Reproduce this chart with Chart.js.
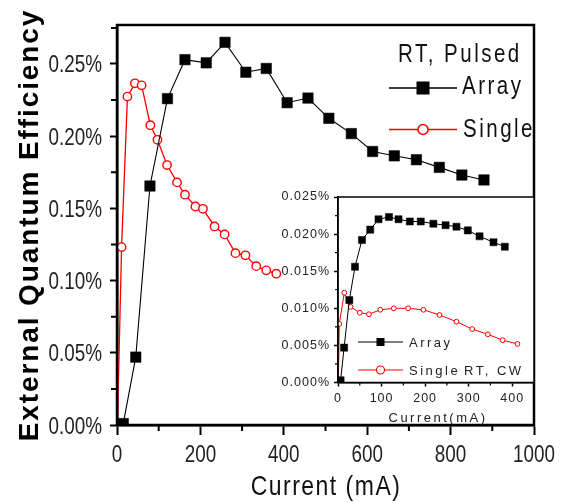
<!DOCTYPE html>
<html><head><meta charset="utf-8">
<script src="https://cdn.jsdelivr.net/npm/chart.js@4.4.1/dist/chart.umd.min.js"></script>
<style>
html,body{margin:0;padding:0;background:#fff;}
#wrap{position:relative;width:562px;height:503px;overflow:hidden;}
#main{position:absolute;left:0;top:0;}
#inset{position:absolute;left:262px;top:185px;}
</style></head><body>
<div id="wrap"><canvas id="main" width="562" height="503"></canvas><canvas id="inset" width="300" height="250"></canvas></div>
<script>
// ---- Main plot (RT, Pulsed) ----
const arrayCurrent = [15, 45, 79, 121, 163, 214, 259, 309, 358, 408, 458, 508, 562, 613, 665, 718, 773, 827, 880];
const arrayEQE = [0.001, 0.047, 0.1655, 0.226, 0.253, 0.2508, 0.265, 0.2443, 0.2469, 0.2232, 0.2264, 0.2124, 0.2018, 0.1894, 0.1864, 0.1837, 0.1784, 0.1731, 0.1697];
const singleCurrent = [1, 11, 25, 43, 59, 80, 97, 120, 144, 163, 188, 206, 234, 258, 284, 308, 334, 358, 382];
const singleEQE = [0.001, 0.1232, 0.2274, 0.2366, 0.2352, 0.2076, 0.1975, 0.180, 0.168, 0.1595, 0.1513, 0.1497, 0.1375, 0.132, 0.119, 0.1175, 0.110, 0.1071, 0.1048];
const mainXTicks = [0, 200, 400, 600, 800, 1000];
const mainXMinor = [100, 300, 500, 700, 900];
const mainYTicks = [0, 0.05, 0.10, 0.15, 0.20, 0.25];
const mainYMinor = [0.025, 0.075, 0.125, 0.175, 0.225, 0.275];

// ---- Inset (RT, CW) ----
const insetArrayCurrent = [6, 14, 26, 39, 55, 74, 93, 117, 139, 165, 190, 219, 247, 272, 298, 325, 357, 383];
const insetArrayEQE = [0.0003, 0.0047, 0.0111, 0.0156, 0.0192, 0.0206, 0.0220, 0.0223, 0.0220, 0.0217, 0.0217, 0.0214, 0.0212, 0.0210, 0.0205, 0.0197, 0.0189, 0.0183];
const insetSingleCurrent = [1, 3, 14.5, 29, 50, 71, 97, 128, 161, 196, 233, 272, 308, 344, 378, 412];
const insetSingleEQE = [0.0002, 0.0079, 0.0121, 0.0102, 0.0094, 0.0092, 0.0098, 0.0100, 0.0100, 0.0098, 0.0091, 0.0082, 0.0072, 0.0065, 0.0057, 0.0052];
const insetXTicks = [0, 100, 200, 300, 400];
const insetXMinor = [50, 150, 250, 350];
const insetYTicks = [0, 0.005, 0.010, 0.015, 0.020, 0.025];
const insetYMinor = [0.0025, 0.0075, 0.0125, 0.0175, 0.0225];

const SANS = "'Liberation Sans',Arial,sans-serif";
const NARROW_SX = 0.82; // Liberation Sans squeezed to mimic a narrow face

const pts = (xs, ys) => xs.map((x, i) => ({x, y: ys[i]}));

function drawText(ctx, t) {
  ctx.save();
  ctx.font = t.font; ctx.fillStyle = t.color || '#111';
  const sx = t.sx || 1;
  ctx.letterSpacing = ((t.spacing || 0) / sx) + 'px';
  ctx.textAlign = t.align || 'left'; ctx.textBaseline = t.baseline || 'alphabetic';
  ctx.translate(t.x, t.y); if (t.rotate) ctx.rotate(t.rotate);
  ctx.scale(sx, 1);
  ctx.fillText(t.text, 0, 0);
  ctx.restore();
}

const framePlugin = {
  id: 'frame',
  afterDraw(chart, args, opts) {
    const {ctx, chartArea: a} = chart;
    ctx.save();
    ctx.strokeStyle = '#000';
    ctx.lineWidth = opts.width || 2;
    ctx.strokeRect(a.left, a.top, a.right - a.left, a.bottom - a.top);
    ctx.restore();
  }
};
const bgPlugin = {
  id: 'areaBg',
  beforeDraw(chart) {
    const {ctx, chartArea: a} = chart;
    ctx.save(); ctx.fillStyle = '#fff';
    ctx.fillRect(a.left, a.top, a.right - a.left, a.bottom - a.top);
    ctx.restore();
  }
};
const minorPlugin = {
  id: 'minor',
  afterDraw(chart, args, opts) {
    const {ctx, chartArea: a, scales} = chart;
    ctx.save(); ctx.strokeStyle = '#000'; ctx.lineWidth = opts.width || 1.5;
    ctx.beginPath();
    for (const v of opts.x) { const p = scales.x.getPixelForValue(v); ctx.moveTo(p, a.bottom); ctx.lineTo(p, a.bottom + opts.len); }
    for (const v of opts.y) { const p = scales.y.getPixelForValue(v); ctx.moveTo(a.left, p); ctx.lineTo(a.left - opts.len, p); }
    ctx.stroke(); ctx.restore();
  }
};
// Tick labels of the main axes, placed by the library's scales, drawn in a squeezed face
const tickLabelPlugin = {
  id: 'tickLabels',
  afterDraw(chart, args, opts) {
    if (!opts.font) return;
    const {ctx, chartArea: a, scales} = chart;
    for (const t of scales.x.ticks) {
      drawText(ctx, {text: opts.xfmt(t.value), x: scales.x.getPixelForValue(t.value), y: a.bottom + opts.xOff,
        align: 'center', font: opts.font, color: opts.color, sx: opts.sx});
    }
    for (const t of scales.y.ticks) {
      drawText(ctx, {text: opts.yfmt(t.value), x: a.left - opts.yOff, y: scales.y.getPixelForValue(t.value) + opts.yBase,
        align: 'right', font: opts.font, color: opts.color, sx: opts.sx});
    }
  }
};
const textPlugin = {
  id: 'texts',
  afterDraw(chart, args, opts) { for (const t of opts.items) drawText(chart.ctx, t); }
};
const legendPlugin = {
  id: 'customLegend',
  afterDraw(chart, args, opts) {
    const ctx = chart.ctx;
    for (const r of opts.rows) {
      ctx.save();
      ctx.strokeStyle = r.color; ctx.lineWidth = r.lineWidth;
      ctx.beginPath(); ctx.moveTo(r.x0, r.y); ctx.lineTo(r.x1, r.y); ctx.stroke();
      const cx = (r.x0 + r.x1) / 2;
      if (r.marker === 'rect') {
        ctx.fillStyle = r.color; ctx.fillRect(cx - r.size / 2, r.y - r.size / 2, r.size, r.size);
      } else {
        ctx.fillStyle = '#fff'; ctx.lineWidth = r.markerWidth;
        ctx.beginPath(); ctx.arc(cx, r.y, r.size, 0, Math.PI * 2); ctx.fill(); ctx.stroke();
      }
      ctx.restore();
    }
  }
};
const spacingPlugin = {
  id: 'spacing',
  beforeLayout(chart, args, opts) { chart.ctx.letterSpacing = (opts.px || 0) + 'px'; },
  beforeDraw(chart, args, opts) { chart.ctx.letterSpacing = (opts.px || 0) + 'px'; }
};

function axis(opts) {
  return {
    type: 'linear', min: opts.min, max: opts.max,
    afterFit(s) { if (opts.w !== undefined) s.width = opts.w; if (opts.h !== undefined) s.height = opts.h; },
    afterBuildTicks(s) { s.ticks = opts.ticks.map(v => ({value: v})); },
    grid: {drawOnChartArea: false, drawTicks: true, tickLength: opts.tickLen, tickWidth: opts.tickWidth, color: '#000'},
    border: {display: true, color: '#000', width: opts.borderWidth},
    ticks: {display: opts.showLabels !== false, font: opts.font, color: opts.color, padding: opts.pad,
            maxRotation: 0, autoSkip: false, callback: opts.fmt}
  };
}

new Chart(document.getElementById('main'), {
  type: 'line',
  data: {datasets: [
    {label: 'Array', data: pts(arrayCurrent, arrayEQE), borderColor: '#000', borderWidth: 1.1,
     pointStyle: 'rect', pointRadius: 7.4, pointBackgroundColor: '#000', pointBorderColor: '#000', pointBorderWidth: 0.5, tension: 0},
    {label: 'Single', data: pts(singleCurrent, singleEQE), borderColor: '#ff0000', borderWidth: 1.3,
     pointStyle: 'circle', pointRadius: 4.2, pointBackgroundColor: '#fff', pointBorderColor: '#ff0000', pointBorderWidth: 1.4, tension: 0}
  ]},
  options: {
    responsive: false, animation: false, events: [],
    layout: {padding: {top: 25, right: 28, left: 0, bottom: 0}},
    scales: {
      x: axis({min: 0, max: 1000, h: 78, ticks: mainXTicks, tickLen: 10, tickWidth: 2, borderWidth: 2.5, showLabels: false}),
      y: axis({min: 0, max: 0.277, w: 117, ticks: mainYTicks, tickLen: 7, tickWidth: 2, borderWidth: 2.5, showLabels: false})
    },
    plugins: {
      legend: {display: false}, tooltip: {enabled: false},
      frame: {width: 2.5},
      minor: {x: mainXMinor, y: mainYMinor, len: 6, width: 2},
      tickLabels: {font: '23px ' + SANS, color: '#222', sx: NARROW_SX, xOff: 37, yOff: 15, yBase: 8.5,
                   xfmt: v => String(v), yfmt: v => v.toFixed(2) + '%'},
      texts: {items: [
        {text: 'Current (mA)', x: 326, y: 495, align: 'center', font: '28px ' + SANS, sx: NARROW_SX, spacing: 1.5, color: '#111'},
        {text: 'External Quantum Efficiency', x: 38, y: 225, align: 'center', rotate: -Math.PI / 2, font: 'bold 28px ' + SANS, spacing: 1.9, color: '#000'},
        {text: 'RT, Pulsed', x: 398, y: 62, font: '25px ' + SANS, sx: NARROW_SX, spacing: 2.5, color: '#111'},
        {text: 'Array', x: 462, y: 94, font: '25px ' + SANS, sx: NARROW_SX, spacing: 2.5, color: '#111'},
        {text: 'Single', x: 463, y: 137, font: '25px ' + SANS, sx: NARROW_SX, spacing: 2.5, color: '#111'}
      ]},
      customLegend: {rows: [
        {x0: 389, x1: 457, y: 88, color: '#000', lineWidth: 1.5, marker: 'rect', size: 13},
        {x0: 389, x1: 457, y: 129.5, color: '#ff0000', lineWidth: 1.5, marker: 'circle', size: 5, markerWidth: 1.5}
      ]}
    }
  },
  plugins: [framePlugin, minorPlugin, tickLabelPlugin, textPlugin, legendPlugin]
});

new Chart(document.getElementById('inset'), {
  type: 'line',
  data: {datasets: [
    {label: 'Array', data: pts(insetArrayCurrent, insetArrayEQE), borderColor: '#000', borderWidth: 1,
     pointStyle: 'rect', pointRadius: 5, pointBackgroundColor: '#000', pointBorderColor: '#000', pointBorderWidth: 0.5, tension: 0},
    {label: 'Single', data: pts(insetSingleCurrent, insetSingleEQE), borderColor: '#ff0000', borderWidth: 1,
     pointStyle: 'circle', pointRadius: 2.4, pointBackgroundColor: '#fff', pointBorderColor: '#ff0000', pointBorderWidth: 1, tension: 0}
  ]},
  options: {
    responsive: false, animation: false, events: [],
    layout: {padding: {top: 12, right: 28, left: 0, bottom: 0}},
    scales: {
      x: axis({min: 0, max: 450, h: 52.5, ticks: insetXTicks, tickLen: 4, tickWidth: 1.5, borderWidth: 1.5,
               font: {family: SANS, size: 12.5}, color: '#222', pad: 5, fmt: v => String(v)}),
      y: axis({min: 0, max: 0.025, w: 76, ticks: insetYTicks, tickLen: 4, tickWidth: 1.5, borderWidth: 1.5,
               font: {family: SANS, size: 12.5}, color: '#222', pad: 4, fmt: v => v.toFixed(3) + '%'})
    },
    plugins: {
      legend: {display: false}, tooltip: {enabled: false},
      spacing: {px: 1},
      frame: {width: 1.5},
      minor: {x: insetXMinor, y: insetYMinor, len: 3, width: 1.2},
      texts: {items: [
        {text: 'Current(mA)', x: 176, y: 237, align: 'center', font: '13px ' + SANS, spacing: 2.5, color: '#222'},
        {text: 'Array', x: 147, y: 162, font: '13px ' + SANS, spacing: 2.5, color: '#222'},
        {text: 'Single', x: 147, y: 190, font: '13px ' + SANS, spacing: 2.5, color: '#222'},
        {text: 'RT, CW', x: 202, y: 190, font: '13px ' + SANS, spacing: 2.5, color: '#222'}
      ]},
      customLegend: {rows: [
        {x0: 96, x1: 141, y: 157, color: '#000', lineWidth: 1.2, marker: 'rect', size: 8},
        {x0: 96, x1: 141, y: 185, color: '#ff0000', lineWidth: 1.2, marker: 'circle', size: 4, markerWidth: 1.2}
      ]}
    }
  },
  plugins: [spacingPlugin, bgPlugin, framePlugin, minorPlugin, textPlugin, legendPlugin]
});
</script>
</body></html>
